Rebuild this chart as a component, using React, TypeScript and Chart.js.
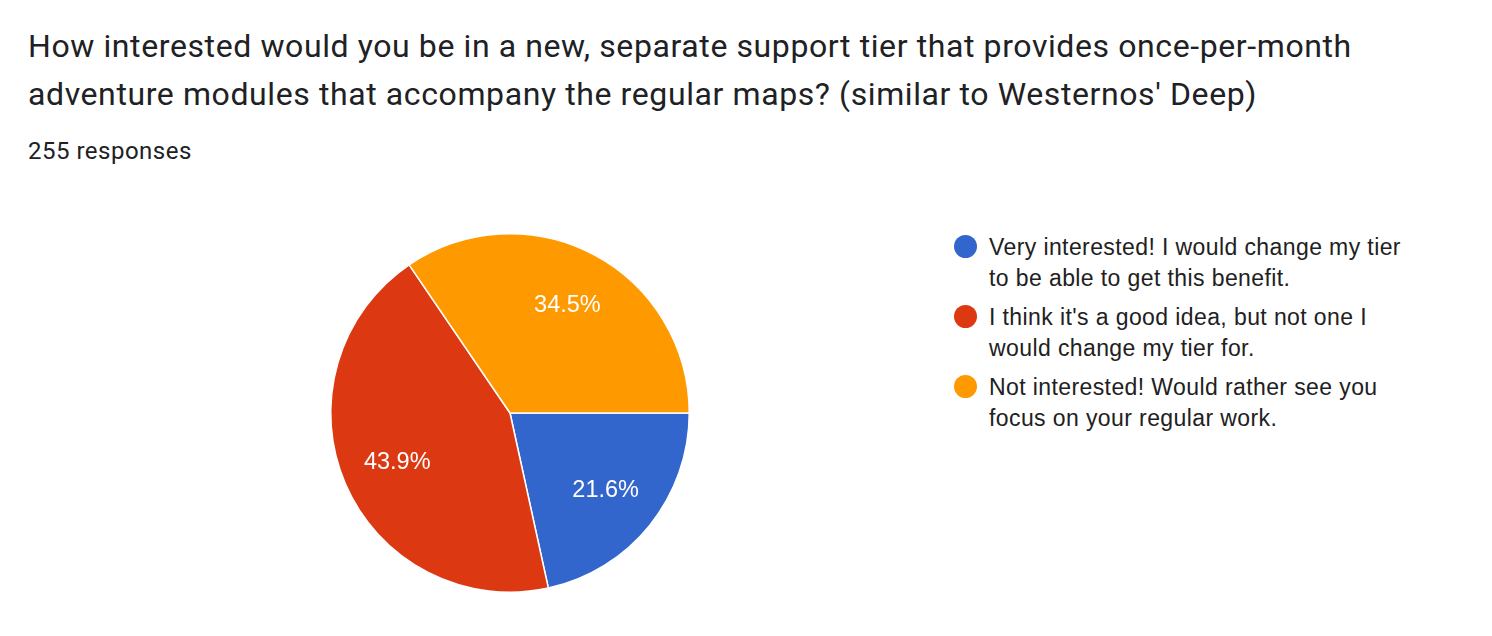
import React, { useEffect, useRef } from "react";
import { Chart, registerables } from "chart.js";

Chart.register(...registerables);

const titleLines = [
  "How interested would you be in a new, separate support tier that provides once-per-month",
  "adventure modules that accompany the regular maps? (similar to Westernos' Deep)",
];
const responsesText = "255 responses";
const categories = [
  "Very interested! I would change my tier to be able to get this benefit.",
  "I think it's a good idea, but not one I would change my tier for.",
  "Not interested! Would rather see you focus on your regular work.",
];
const counts = [55, 112, 88];
const colors = ["#3366cc", "#dc3912", "#ff9900"];

const pctLabels = {
  id: "pctLabels",
  afterDatasetsDraw(chart: any) {
    const ctx = chart.ctx;
    const meta = chart.getDatasetMeta(0);
    const data = chart.data.datasets[0].data as number[];
    const total = data.reduce((a, b) => a + b, 0);
    ctx.save();
    ctx.fillStyle = "#ffffff";
    ctx.font = "23.5px 'Liberation Sans', Arial, sans-serif";
    ctx.textAlign = "center";
    ctx.textBaseline = "middle";
    meta.data.forEach((arc: any, i: number) => {
      const p = arc.getProps(["x", "y", "startAngle", "endAngle", "outerRadius"], true);
      const mid = (p.startAngle + p.endAngle) / 2;
      const r = p.outerRadius * 0.685;
      const txt = ((data[i] / total) * 100).toFixed(1) + "%";
      ctx.fillText(txt, p.x + Math.cos(mid) * r, p.y + Math.sin(mid) * r + 1);
    });
    ctx.restore();
  },
};

export default function App() {
  const canvasRef = useRef<HTMLCanvasElement | null>(null);
  useEffect(() => {
    if (!canvasRef.current) return;
    const chart = new Chart(canvasRef.current, {
      type: "pie",
      data: {
        labels: categories,
        datasets: [
          {
            data: counts,
            backgroundColor: colors,
            borderColor: "#ffffff",
            borderWidth: 1.5,
          },
        ],
      },
      options: {
        animation: false,
        responsive: false,
        rotation: 90,
        layout: { padding: 10 },
        plugins: {
          legend: { display: false },
          tooltip: { enabled: false },
        },
      },
      plugins: [pctLabels],
    });
    return () => chart.destroy();
  }, []);

  return (
    <div
      style={{
        position: "fixed",
        left: 0,
        top: 0,
        width: 1492,
        height: 636,
        background: "#ffffff",
        overflow: "hidden",
      }}
    >
      <div
        style={{
          position: "absolute",
          left: 28,
          top: 22,
          fontFamily: "Roboto, sans-serif",
          fontSize: 32,
          letterSpacing: "0.6px",
          lineHeight: "48px",
          color: "#202124",
          whiteSpace: "nowrap",
        }}
      >
        {titleLines.map((l, i) => (
          <div key={i}>{l}</div>
        ))}
      </div>
      <div
        style={{
          position: "absolute",
          left: 28,
          top: 137,
          fontFamily: "Roboto, sans-serif",
          fontSize: 24,
          letterSpacing: "0.5px",
          lineHeight: "28px",
          color: "#202124",
          whiteSpace: "nowrap",
        }}
      >
        {responsesText}
      </div>
      <div style={{ position: "absolute", left: 320, top: 223, width: 380, height: 380 }}>
        <canvas ref={canvasRef} width={380} height={380} style={{ width: 380, height: 380 }} />
      </div>
      <div
        style={{
          position: "absolute",
          left: 954,
          top: 231.5,
          fontFamily: "'Liberation Sans', Arial, sans-serif",
          fontSize: 23,
          letterSpacing: "0.4px",
          lineHeight: "31px",
          color: "#212121",
        }}
      >
        {categories.map((c, i) => (
          <div key={i} style={{ position: "relative", paddingLeft: 35, marginBottom: 8, width: 424 }}>
            <span
              style={{
                position: "absolute",
                left: 0,
                top: 3,
                width: 23,
                height: 23,
                borderRadius: "50%",
                background: colors[i],
              }}
            />
            {c}
          </div>
        ))}
      </div>
    </div>
  );
}
